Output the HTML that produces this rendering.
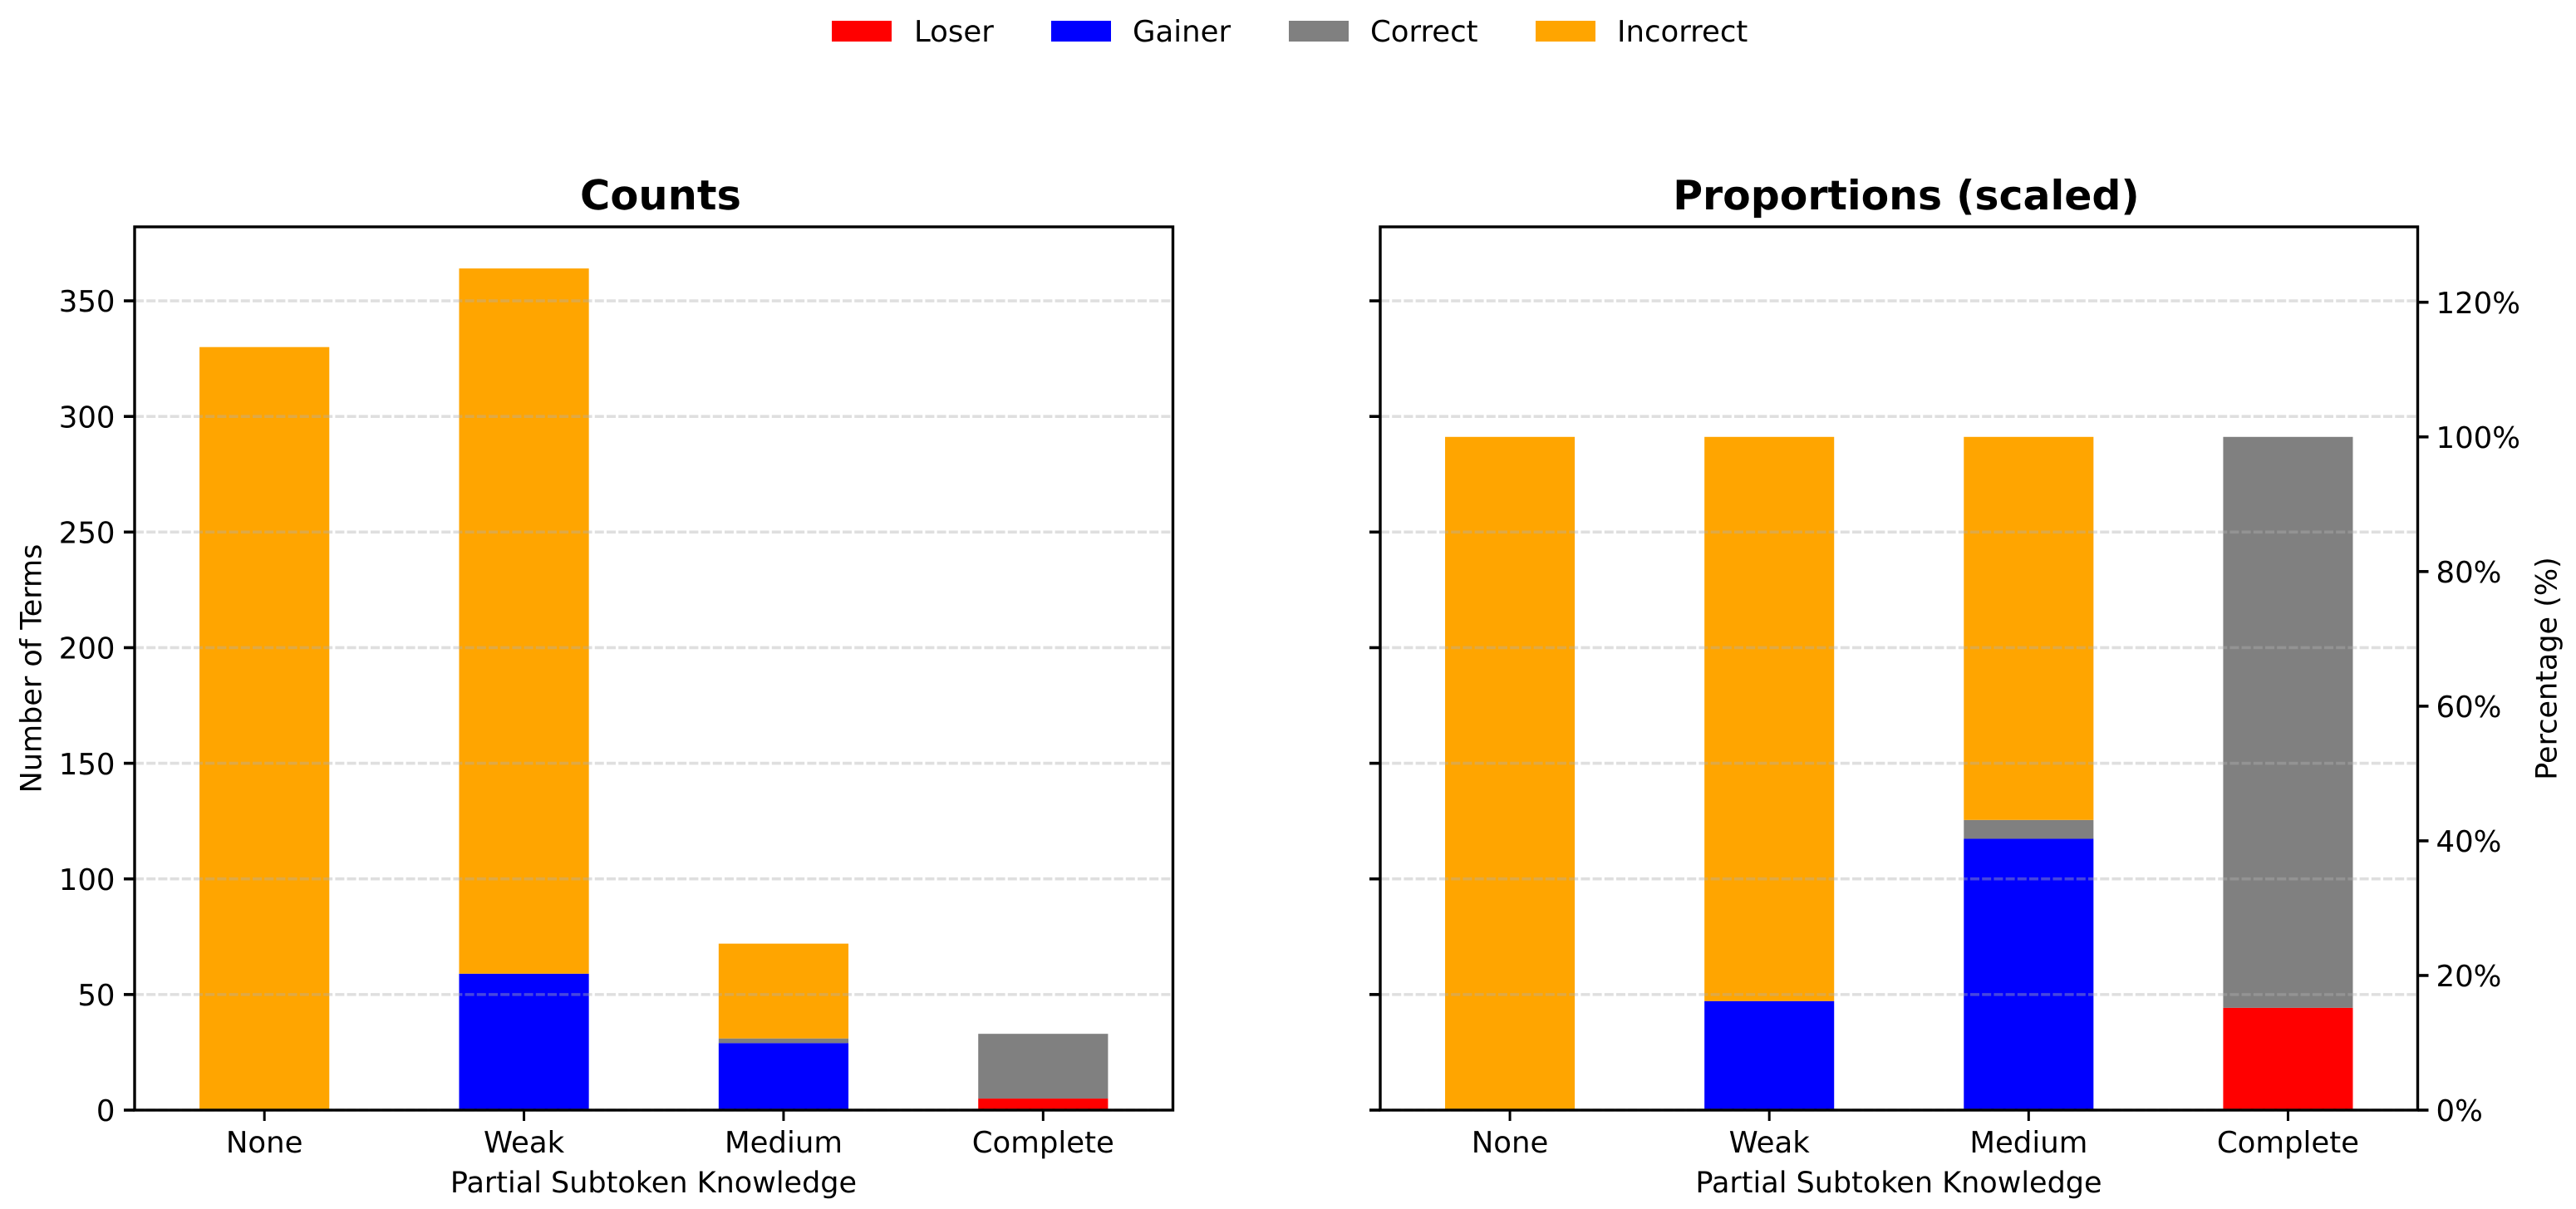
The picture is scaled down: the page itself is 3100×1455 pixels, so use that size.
<!DOCTYPE html>
<html>
<head>
<meta charset="utf-8">
<title>Partial Subtoken Knowledge</title>
<style>
html,body{margin:0;padding:0;background:#fff;width:3100px;height:1455px;overflow:hidden}
svg{display:block}
text{font-family:"DejaVu Sans","Liberation Sans",sans-serif;font-size:35.5px;fill:#000;text-rendering:geometricPrecision}
</style>
</head>
<body>
<svg id="chart" xmlns="http://www.w3.org/2000/svg" width="3100" height="1455" viewBox="0 0 3100 1455">
  <rect x="0" y="0" width="3100" height="1455" fill="#fff"/>
  <g id="panel-left"></g>
  <g id="panel-right"></g>
  <text x="795" y="252" text-anchor="middle" style="font-size:49.5px;font-weight:bold">Counts</text>
  <text x="2294" y="252" text-anchor="middle" style="font-size:48.9px;font-weight:bold">Proportions (scaled)</text>
  <text x="786.5" y="1435" text-anchor="middle" style="font-size:35px">Partial Subtoken Knowledge</text>
  <text x="2285" y="1435" text-anchor="middle" style="font-size:35px">Partial Subtoken Knowledge</text>
  <text transform="translate(49.5 804.5) rotate(-90)" text-anchor="middle" style="font-size:35px">Number of Terms</text>
  <text transform="translate(3076.5 804.5) rotate(-90)" text-anchor="middle" style="font-size:35px">Percentage (%)</text>
  <g>
    <g>
      <rect x="1001" y="25" width="72" height="25" fill="#ff0000"/>
      <text x="1100" y="50">Loser</text>
    </g>
    <g>
      <rect x="1265" y="25" width="72" height="25" fill="#0000ff"/>
      <text x="1363" y="50">Gainer</text>
    </g>
    <g>
      <rect x="1551" y="25" width="72" height="25" fill="#808080"/>
      <text x="1649" y="50">Correct</text>
    </g>
    <g>
      <rect x="1848" y="25" width="72" height="25" fill="#ffa500"/>
      <text x="1946" y="50">Incorrect</text>
    </g>
  </g>
</svg>
<script>
const categories = ['None', 'Weak', 'Medium', 'Complete'];
const seriesNames = ['loser', 'gainer', 'correct', 'incorrect'];
const seriesColors = ['#ff0000', '#0000ff', '#808080', '#ffa500'];

const countLoser = [0, 0, 0, 5];
const countGainer = [0, 59, 29, 0];
const countCorrect = [0, 0, 2, 28];
const countIncorrect = [330, 305, 41, 0];

const pctLoser = [0, 0, 0, 15.2];
const pctGainer = [0, 16.2, 40.3, 0];
const pctCorrect = [0, 0, 2.8, 84.8];
const pctIncorrect = [100, 83.8, 56.9, 0];

const countTicks = [0, 50, 100, 150, 200, 250, 300, 350];
const pctTicks = [0, 20, 40, 60, 80, 100, 120];
const pctTickLabels = ['0%', '20%', '40%', '60%', '80%', '100%', '120%'];
const countMax = 382;
const pctMax = 131.2;

const NS = 'http://www.w3.org/2000/svg';
const plotTop = 273;
const plotBottom = 1336;

function yCount(v) { return plotBottom - (v / countMax) * (plotBottom - plotTop); }
function yPct(v) { return plotBottom - (v / pctMax) * (plotBottom - plotTop); }
function xBand(i, left, right) { return left + (i + 0.5) * (right - left) / categories.length; }

function mk(tag, attrs, parent) {
  const node = document.createElementNS(NS, tag);
  for (const k in attrs) node.setAttribute(k, attrs[k]);
  parent.appendChild(node);
  return node;
}

function drawPanel(panel, prefix, left, right, series, yScale, rightSide) {
  const barW = (right - left) / categories.length / 2;

  categories.forEach(function (cat, i) {
    let base = 0;
    series.forEach(function (vals, s) {
      const v = vals[i];
      if (v > 0) {
        const yTop = yScale(base + v);
        const yBot = yScale(base);
        const bar = mk('rect', { x: xBand(i, left, right) - barW / 2, y: yTop, width: barW, height: yBot - yTop, fill: seriesColors[s] }, panel);
        
        
      }
      base += v;
    });
  });

  countTicks.forEach(function (t) {
    const y = yCount(t);
    const grid = mk('line', { x1: left, x2: right, y1: y, y2: y, stroke: '#b0b0b0', 'stroke-opacity': 0.4, 'stroke-width': 3.6, 'stroke-dasharray': '11 3.2' }, panel);
    
    
    const tick = mk('line', { x1: left - 13, x2: left, y1: y, y2: y, stroke: '#000', 'stroke-width': 3.6 }, panel);
    
    
    if (!rightSide) {
      const label = mk('text', { x: left - 23.5, y: y + 13.2, 'text-anchor': 'end' }, panel);
      label.textContent = String(t);
      
      
    }
  });

  if (rightSide) {
    pctTicks.forEach(function (t, i) {
      const y = yPct(t);
      const tick = mk('line', { x1: right, x2: right + 13, y1: y, y2: y, stroke: '#000', 'stroke-width': 3.6 }, panel);
      
      
      const label = mk('text', { x: right + 22, y: y + 13.2, 'text-anchor': 'start' }, panel);
      label.textContent = pctTickLabels[i];
      
      
    });
  }

  categories.forEach(function (cat, i) {
    const x = xBand(i, left, right);
    const tick = mk('line', { x1: x, x2: x, y1: plotBottom, y2: plotBottom + 13, stroke: '#000', 'stroke-width': 3 }, panel);
    
    
    const label = mk('text', { x: x, y: 1387, 'text-anchor': 'middle' }, panel);
    label.textContent = cat;
    
    
  });

  const frame = mk('rect', { x: left, y: plotTop, width: right - left, height: plotBottom - plotTop, fill: 'none', stroke: '#000', 'stroke-width': 3.4 }, panel);
  
  
}

drawPanel(document.getElementById('panel-left'), 'counts', 162, 1411.5,
  [countLoser, countGainer, countCorrect, countIncorrect], yCount, false);
drawPanel(document.getElementById('panel-right'), 'proportions', 1661, 2909.5,
  [pctLoser, pctGainer, pctCorrect, pctIncorrect], yPct, true);
</script>
</body>
</html>
